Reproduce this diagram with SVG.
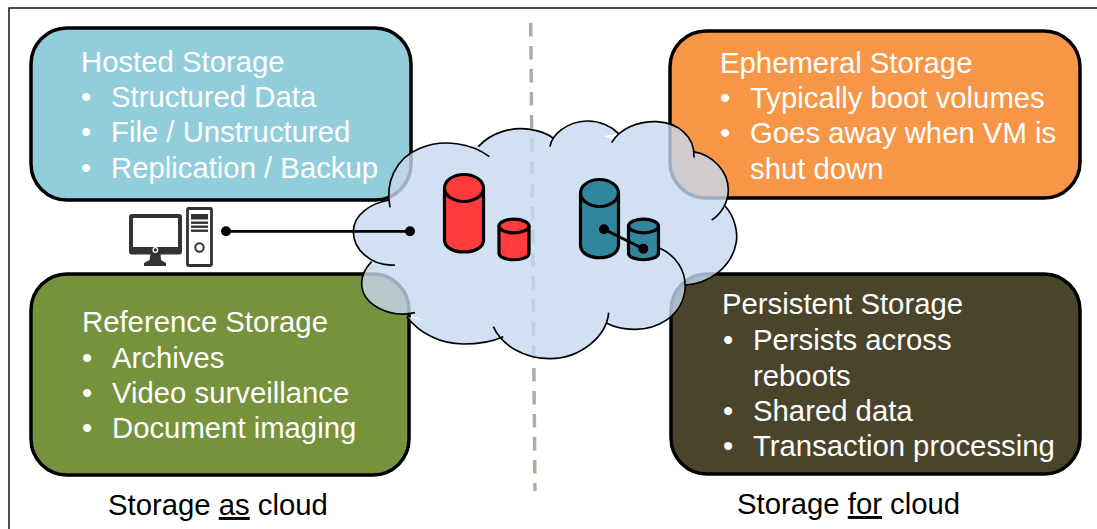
<svg xmlns="http://www.w3.org/2000/svg" width="1097" height="529" viewBox="0 0 1097 529">
<style>
text{font-family:"Liberation Sans",Arial,sans-serif;font-size:29.3px;fill:#fff}
.cap{fill:#000}
.box{stroke:#000;stroke-width:3.5}
.cyl{stroke:#000;stroke-width:3.2;stroke-linejoin:round}
.red{fill:#ff3b3b}
.teal{fill:#31859c}
.wire{stroke:#000;stroke-width:2.8;fill:none}
.dark{fill:#333}
</style>
<defs>
<g id="bumps">
<path d="M150 262C135 190 165 115 240 85C310 55 395 70 448 110"/>
<path d="M415 80C455 35 520 20 570 28C600 33 625 42 640 55"/>
<path d="M630 80C635 45 680 5 740 3C780 2 815 20 835 40"/>
<path d="M815 68C840 25 895 3 950 5C1015 8 1065 50 1062 112"/>
<path d="M1060 95C1120 105 1165 155 1165 210C1165 250 1140 285 1115 300"/>
<path d="M1155 258C1185 290 1195 340 1188 370C1175 440 1110 490 1035 495"/>
<path d="M960 385C1005 405 1040 450 1035 510C1025 590 950 630 880 628C850 628 820 620 800 610"/>
<path d="M806 578C800 650 720 716 630 716C550 716 485 675 460 620"/>
<path d="M490 650C450 668 410 672 370 672C300 672 240 640 200 590"/>
<path d="M225 578C150 595 65 555 65 490C65 465 80 440 95 425"/>
<path d="M165 435C90 440 40 385 40 335C40 285 90 250 148 240"/>
</g>
</defs>
<rect x="9" y="8" width="1200" height="700" fill="#fff" stroke="#000" stroke-width="1.4"/>
<path d="M530.700 23L535 491" stroke="#aeada0" stroke-width="3.5" stroke-dasharray="13.500 9.500" fill="none"/>
<g id="hosted-storage">
<rect class="box" x="31" y="28" width="380" height="172" rx="36" fill="#92cddc"/>
<text x="81" y="72">Hosted Storage</text>
<text x="81" y="107">•</text><text x="111" y="107">Structured Data</text>
<text x="81" y="142">•</text><text x="111" y="142">File / Unstructured</text>
<text x="81" y="178">•</text><text x="111" y="178">Replication / Backup</text>
</g>
<g id="ephemeral-storage">
<rect class="box" x="670" y="31" width="410" height="167" rx="36" fill="#f79646"/>
<text x="720" y="73">Ephemeral Storage</text>
<text x="720" y="108">•</text><text x="750" y="108">Typically boot volumes</text>
<text x="720" y="143">•</text><text x="750" y="143">Goes away when VM is</text>
<text x="750" y="179">shut down</text>
</g>
<g id="reference-storage">
<rect class="box" x="31" y="274" width="378" height="201" rx="36" fill="#76923c"/>
<text x="82" y="332">Reference Storage</text>
<text x="82" y="368">•</text><text x="112" y="368">Archives</text>
<text x="82" y="403">•</text><text x="112" y="403">Video surveillance</text>
<text x="82" y="438">•</text><text x="112" y="438">Document imaging</text>
</g>
<g id="persistent-storage">
<rect class="box" x="671" y="274" width="409" height="200" rx="36" fill="#4a452a"/>
<text x="722" y="314">Persistent Storage</text>
<text x="723" y="350">•</text><text x="753" y="350">Persists across</text>
<text x="753" y="386">reboots</text>
<text x="723" y="421">•</text><text x="753" y="421">Shared data</text>
<text x="723" y="456">•</text><text x="753" y="456">Transaction processing</text>
</g>
<g id="cloud" transform="translate(340 120) scale(.33333)">
<g opacity=".8" fill="#c6d9f1">
<use href="#bumps"/>
<path d="M150 200L300 100L430 70L520 45L610 45L638 70L740 30L825 60L950 30L1050 100L1130 200L1145 265L1170 350L1090 470L1035 495L970 590L880 615L805 600L630 700L500 640L370 660L215 585L100 430L60 335L150 245Z"/>
</g>
<use href="#bumps" fill="none" stroke="#000" stroke-width="5"/>
</g>
<g id="computer">
<rect class="dark" x="129" y="214" width="53" height="40.500" rx="3"/>
<rect x="133" y="218" width="45" height="29" fill="#fff"/>
<circle cx="155.300" cy="250" r="2.300" fill="none" stroke="#fff" stroke-width="1.200"/>
<path class="dark" d="M150.500 254H160.500L161 260L166 263V266H144V263L149.500 260Z"/>
<rect x="187.500" y="208.500" width="24" height="57" fill="#fff" stroke="#333" stroke-width="2.800" rx="1"/>
<rect class="dark" x="191" y="214" width="17" height="5.500"/>
<rect class="dark" x="191" y="221.500" width="17" height="2.400"/>
<rect class="dark" x="191" y="225.500" width="17" height="2.400"/>
<rect class="dark" x="191" y="229.500" width="17" height="2.400"/>
<circle cx="199.500" cy="247.500" r="4.200" fill="none" stroke="#333" stroke-width="2"/>
</g>
<g id="red-cylinder-large">
<path class="cyl red" d="M444.500 188V240C444.500 256 483.500 256 483.500 240V188Z"/>
<ellipse class="cyl red" cx="464" cy="188" rx="19.500" ry="13.500"/>
</g>
<g id="red-cylinder-small">
<path class="cyl red" d="M499 226V253C499 262 529 262 529 253V226Z"/>
<ellipse class="cyl red" cx="514" cy="226" rx="15" ry="6.800"/>
</g>
<g id="teal-cylinder-large">
<path class="cyl teal" d="M580.500 193V245C580.500 262 618.500 262 618.500 245V193Z"/>
<ellipse class="cyl teal" cx="599.500" cy="193" rx="19" ry="13.500"/>
</g>
<g id="teal-cylinder-small">
<path class="cyl teal" d="M628.500 226V253C628.500 262 658.500 262 658.500 253V226Z"/>
<ellipse class="cyl teal" cx="643.500" cy="226" rx="15" ry="6.800"/>
</g>
<g id="connectors">
<path class="wire" d="M226 231.300H410"/>
<circle cx="226" cy="231.300" r="5"/>
<circle cx="410" cy="231.300" r="5"/>
<path class="wire" d="M604 229.300L643.300 248.700"/>
<circle cx="604" cy="229.300" r="5"/>
<circle cx="643.300" cy="248.700" r="5"/>
</g>
<g id="captions">
<text class="cap" x="108" y="515">Storage <tspan text-decoration="underline">as</tspan> cloud</text>
<text class="cap" x="737" y="514">Storage <tspan text-decoration="underline">for</tspan> cloud</text>
</g>
</svg>
